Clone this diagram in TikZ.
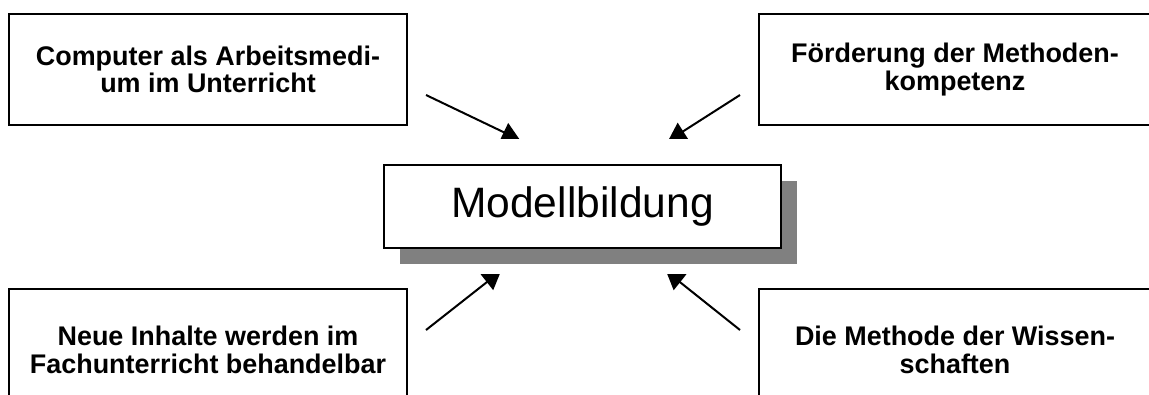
\documentclass[tikz,border=0pt]{standalone}
\usepackage{fontspec}
\setmainfont{Liberation Sans}
\usetikzlibrary{arrows.meta}

\tikzset{
  topic/.style={draw=black, line width=2.2pt, fill=white, inner sep=0pt,
    align=center, font=\bfseries\fontsize{20.2}{20.8}\selectfont},
  core/.style={draw=black, line width=1.6pt, fill=white, inner sep=0pt,
    font=\fontsize{31.9}{36}\selectfont},
  shade/.style={fill=black!50, draw=none},
  link/.style={line width=1.5pt, -{Triangle[length=13.5pt,width=15pt]}}
}

\begin{document}
\begin{tikzpicture}[x=0.75pt, y=-0.75pt]
  \clip (0,0) rectangle (1149,394);
  \fill[white] (0,0) rectangle (1149,394);

  % central box with its drop shadow
  \fill[shade] (400,181) rectangle (797,264);
  \node[core, minimum width=297.75pt, minimum height=62.25pt] (core) at (582.5,206.5) {Modellbildung};

  % the four surrounding topics
  \node[topic, minimum width=298.5pt, minimum height=83.25pt] (tl) at (208,69.5)
    {Computer als Arbeitsmedi-\\um im Unterricht};
  \node[topic, minimum width=294pt, minimum height=83.25pt] (tr) at (955,69.5)
    {Förderung der Methoden-\\kompetenz};
  \node[topic, minimum width=298.5pt, minimum height=90.75pt] (bl) at (208,349.5)
    {Neue Inhalte werden im\\Fachunterricht behandelbar};
  \node[topic, minimum width=294pt, minimum height=90.75pt] (br) at (955,349.5)
    {Die Methode der Wissen-\\schaften};

  % arrow ends
  \coordinate (tlA) at (426,95);   \coordinate (tlB) at (520,140);
  \coordinate (trA) at (740,95);   \coordinate (trB) at (668,141);
  \coordinate (blA) at (426,330);  \coordinate (blB) at (501,271);
  \coordinate (brA) at (740,330);  \coordinate (brB) at (666,271);

  \begin{scope}
    \clip (0,0) rectangle (1149,138);
    \draw[link] (tlA) -- (tlB);
    \draw[link] (trA) -- (trB);
  \end{scope}
  \begin{scope}
    \clip (0,274) rectangle (1149,394);
    \draw[link] (blA) -- (blB);
    \draw[link] (brA) -- (brB);
  \end{scope}
\end{tikzpicture}
\end{document}
